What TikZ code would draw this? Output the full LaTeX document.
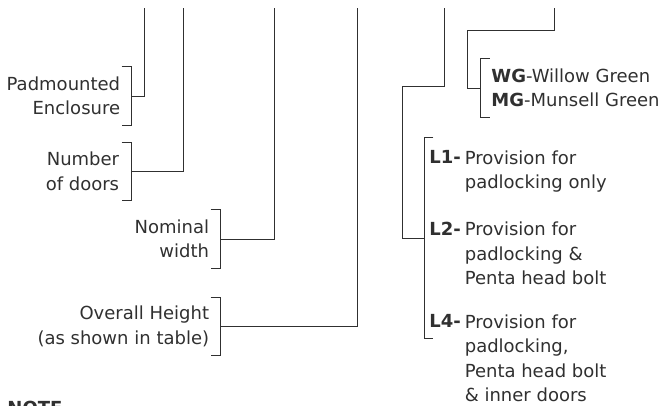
\documentclass[tikz,border=0pt]{standalone}
\usepackage{fontspec}
\setmainfont{DejaVu Sans}
\usetikzlibrary{positioning}
\definecolor{ink}{HTML}{303030}

\begin{document}
\begin{tikzpicture}[x=1pt,y=-1pt,color=ink,line width=0.9pt,
 font=\fontsize{18}{24.5}\selectfont,
 lbl/.style={align=right,inner sep=0pt},
 brk/.style={minimum width=9pt,inner sep=0pt},
 key/.style={font=\fontsize{18}{24.5}\selectfont\bfseries,inner sep=0pt,anchor=west},
 desc/.style={align=left,inner sep=0pt,anchor=north west,xshift=3pt}]
\useasboundingbox (0,0) rectangle (666,406);
% brackets
\node[brk,minimum height=58pt] (bPad) at (126.5,96) {};
\node[brk,minimum height=57pt] (bNum) at (126.5,171.5) {};
\node[brk,minimum height=58pt] (bNom) at (215.5,239) {};
\node[brk,minimum height=57pt] (bOver) at (215.5,326.5) {};
\node[brk,minimum height=58pt] (bCol) at (485,88) {};
\node[brk,minimum width=8pt,minimum height=200pt] (bLock) at (429,238) {};
\foreach \b in {bPad,bNum,bNom,bOver}
  \draw (\b.north west) -- (\b.north east) -- (\b.south east) -- (\b.south west);
\foreach \b in {bCol,bLock}
  \draw (\b.north east) -- (\b.north west) -- (\b.south west) -- (\b.south east);
% left labels
\node[lbl,left=1pt of bPad] (lPad) {Padmounted\\Enclosure};
\node[lbl,left=2pt of bNum] (lNum) {Number\\of doors};
\node[lbl,left=1pt of bNom] (lNom) {Nominal\\width};
\node[lbl,left=1pt of bOver] (lOver) {Overall Height\\(as shown in table)};
% right labels
\node[align=left,inner sep=0pt,right=1pt of bCol] (lCol) {\textbf{WG}-Willow Green\\\textbf{MG}-Munsell Green};
\node[key] (kL1) at (429,157) {L1-};
\node[desc] (dL1) at (kL1.north east) {Provision for\\padlocking only};
\node[key] (kL2) at (429,229) {L2-};
\node[desc] (dL2) at (kL2.north east) {Provision for\\padlocking \&\\Penta head bolt};
\node[key] (kL4) at (429,321) {L4-};
\node[desc] (dL4) at (kL4.north east) {Provision for\\padlocking,\\Penta head bolt\\\& inner doors};
\node[key,anchor=north west] (note) at (7,401) {NOTE};
% connectors
\coordinate (tPad) at (144,8);
\coordinate (tNum) at (183,8);
\coordinate (tNom) at (274,8);
\coordinate (tOver) at (357,8);
\coordinate (jLock) at (402,86);
\coordinate (tLock) at (444,8);
\coordinate (jCol) at (467,30);
\coordinate (tCol) at (554,8);
\draw (bPad.east) -| (tPad);
\draw (bNum.east) -| (tNum);
\draw (bNom.east) -| (tNom);
\draw (bOver.east) -| (tOver);
\draw (bLock.west) -| (jLock) -| (tLock);
\draw (bCol.west) -| (jCol) -| (tCol);
\end{tikzpicture}
\end{document}
